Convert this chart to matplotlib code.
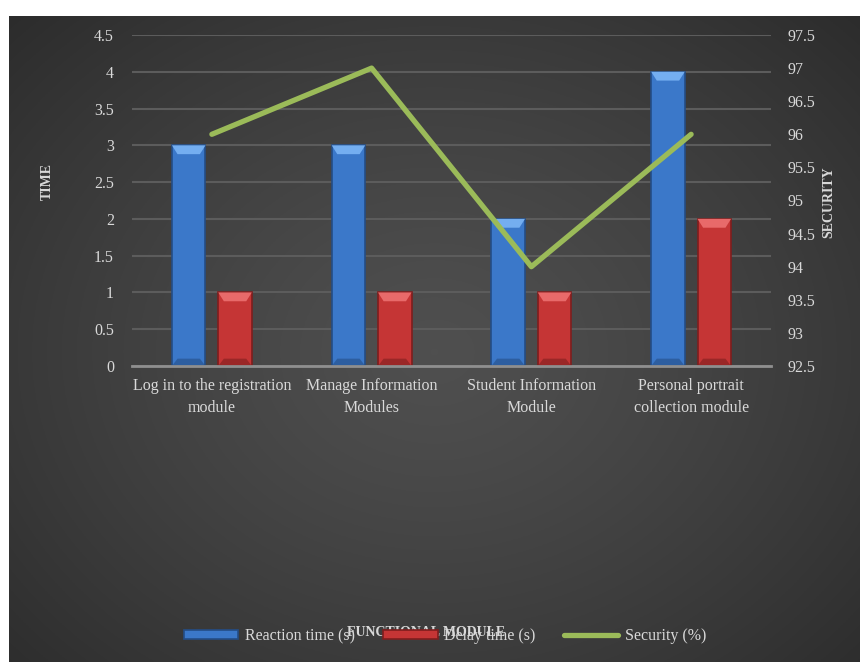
import numpy as np
import matplotlib.pyplot as plt
from matplotlib.patches import Polygon

plt.rcParams['font.family'] = ['Liberation Serif', 'DejaVu Serif']

# Data
modules = ['Log in to the registration\nmodule', 'Manage Information\nModules',
           'Student Information\nModule', 'Personal portrait\ncollection module']
reaction_time = [3, 3, 2, 4]
delay_time = [1, 1, 1, 2]
security = [96, 97, 94, 96]

txt = '#d9d9d9'
fig = plt.figure(figsize=(8.6, 6.62), dpi=100)

# dark radial background panel
bg = fig.add_axes([9/860, 0, 1 - 9/860, 1 - 16/662])
yy, xx = np.mgrid[0:1:400j, 0:1:500j]
r = np.sqrt(((xx - 0.5) / 0.75) ** 2 + ((yy - 0.52) / 0.8) ** 2)
shade = 0.31 - 0.15 * np.clip(r, 0, 1) ** 1.3
bg.imshow(np.dstack([shade] * 3), aspect='auto', extent=[0, 1, 0, 1])
bg.set_axis_off()

ax = fig.add_axes([132/860, 1 - 366/662, 639/860, 331/662])
ax.patch.set_alpha(0)
x = np.arange(len(modules))
w = 0.21
off = 0.145

def bevel_bars(pos, vals, main, light, dark):
    bars = ax.bar(pos, vals, w, color=main, edgecolor=dark, linewidth=1.2, zorder=3)
    for b in bars:
        x0, wd, h = b.get_x(), b.get_width(), b.get_height()
        d = 0.035
        ax.add_patch(Polygon([[x0, h], [x0 + wd, h], [x0 + wd - d, h - 0.12], [x0 + d, h - 0.12]],
                             closed=True, facecolor=light, edgecolor='none', zorder=4))
        ax.add_patch(Polygon([[x0, 0], [x0 + wd, 0], [x0 + wd - d, 0.1], [x0 + d, 0.1]],
                             closed=True, facecolor=dark, edgecolor='none', alpha=0.6, zorder=4))
    return bars

b1 = bevel_bars(x - off, reaction_time, '#3b78c9', '#74aef0', '#244d86')
b2 = bevel_bars(x + off, delay_time, '#c53535', '#e86a6a', '#7e1e1e')

ax.set_xlim(-0.5, len(modules) - 0.5)
ax.set_ylim(0, 4.5)
ax.set_yticks(np.arange(0, 4.51, 0.5))
ax.set_yticklabels(['0', '0.5', '1', '1.5', '2', '2.5', '3', '3.5', '4', '4.5'])
ax.yaxis.grid(True, color='#5c5c5c', linewidth=1.5, zorder=0)
ax.set_axisbelow(True)
for s in ['top', 'right', 'left']:
    ax.spines[s].set_visible(False)
ax.spines['bottom'].set_color('#8f8f8f')
ax.spines['bottom'].set_linewidth(2)
ax.spines['bottom'].set_zorder(5)
ax.set_xticks(x)
ax.set_xticklabels(modules, fontsize=11.5, color=txt, linespacing=1.45)
ax.tick_params(axis='x', length=0, pad=9)
ax.tick_params(axis='y', length=0, pad=13, labelsize=11.5, labelcolor=txt)

ax2 = ax.twinx()
ax2.plot(x, security, color='#9bbb59', linewidth=3.8, solid_capstyle='round', zorder=6)
ax2.set_ylim(92.5, 97.5)
ax2.set_yticks(np.arange(92.5, 97.51, 0.5))
ax2.set_yticklabels(['92.5', '93', '93.5', '94', '94.5', '95', '95.5', '96', '96.5', '97', '97.5'])
ax2.tick_params(axis='y', length=0, pad=12, labelsize=11.5, labelcolor=txt)
for s in ax2.spines.values():
    s.set_visible(False)

fig.text(47/860, 1 - 182/662, 'TIME', rotation=90, ha='center', va='center',
         fontsize=10, fontweight='bold', color=txt)
fig.text(829/860, 1 - 202/662, 'SECURITY', rotation=90, ha='center', va='center',
         fontsize=10, fontweight='bold', color=txt)
fig.text(426/860, 1 - 633/662, 'FUNCTIONAL MODULE', ha='center', va='center',
         fontsize=10, fontweight='bold', color=txt)

lines = [b1, b2, ax2.get_lines()[0]]
leg = fig.legend(lines, ['Reaction time (s)', 'Delay time (s)', 'Security (%)'],
                 loc='center', bbox_to_anchor=(445/860, 1 - 636/662), ncol=3,
                 frameon=False, fontsize=11.5, labelcolor=txt, handlelength=3.4,
                 handleheight=0.45, columnspacing=1.8, handletextpad=0.4)

fig.savefig('out.png', dpi=100, facecolor='white')
